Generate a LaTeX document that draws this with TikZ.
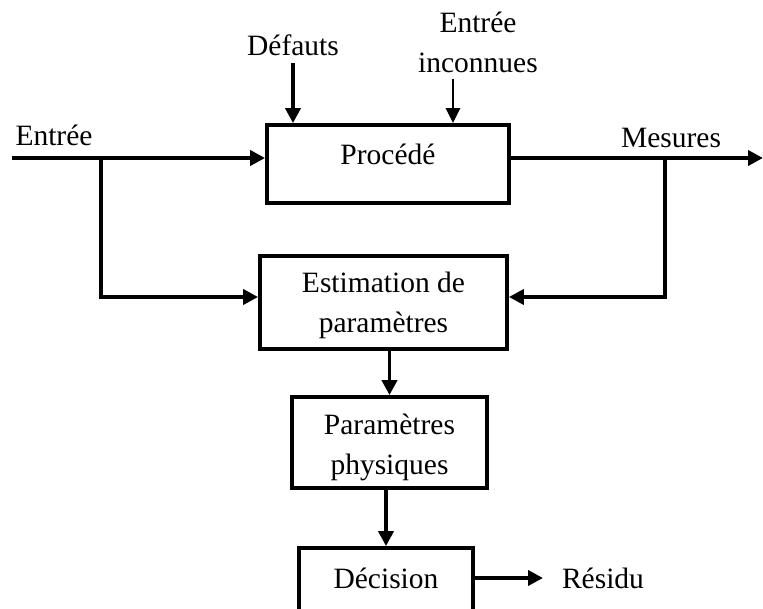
\documentclass[tikz,border=0pt]{standalone}
\usepackage{fontspec}
\setmainfont{Liberation Serif}
\usetikzlibrary{arrows.meta}
\begin{document}
\begin{tikzpicture}[x=1pt,y=-1pt,
  every node/.style={font=\fontsize{29.5}{40}\selectfont},
  blockbox/.style={draw,line width=3.8pt,align=center,inner sep=0pt},
  tag/.style={align=center,inner sep=0pt},
  wire/.style={line width=3.8pt,line join=miter},
  arr/.style={wire,-{Triangle[length=15pt,width=15pt]}},
  thinarr/.style={line width=2.4pt,-{Triangle[length=15pt,width=14pt]}}]
\useasboundingbox (0,0) rectangle (763,609);
\clip (0,0) rectangle (763,609);

% blocks
\node[blockbox,minimum width=242pt,minimum height=78pt,text height=20pt,text depth=18pt] (proc) at (388,164) {Procédé};
\node[blockbox,minimum width=247pt,minimum height=93pt] (est) at (383.5,302.5) {\rule{0pt}{26pt}Estimation de\\paramètres};
\node[blockbox,minimum width=195pt,minimum height=91pt] (par) at (389.5,442.5) {\rule{0pt}{31pt}Paramètres\\physiques};
\node[blockbox,minimum width=174pt,minimum height=76pt,text height=20pt,text depth=16pt] (dec) at (386,586) {Décision};

% labels
\node[tag] (lin) at (54,135) {Entrée};
\node[tag] (ldef) at (293,45) {Défauts};
\node[tag] (lunk) at (478,42) {Entrée\\inconnues};
\node[tag] (lmes) at (671,138) {Mesures};
\node[tag] (lres) at (603,578) {Résidu};

% free ends and branch points
\coordinate (in) at (12,158);
\coordinate (jl) at (101,158);
\coordinate (jr) at (665,158);
\coordinate (out) at (763,158);
\coordinate (fd) at (293,63);
\coordinate (fu) at (453,79);
\coordinate (res) at (543,578);

% connectors
\draw[arr] (in) -- (proc.west |- in);
\draw[arr] (fd) -- (fd |- proc.north);
\draw[thinarr] (fu) -- (fu |- proc.north);
\draw[arr] (proc.east |- out) -- (out);
\draw[arr] (jl) |- (est.west |- 0,297);
\draw[arr] (jr) |- (est.east |- 0,297);
\draw[arr] (par.north |- est.south) -- (par.north);
\draw[arr] (dec.north |- par.south) -- (dec.north);
\draw[arr] (dec.east |- res) -- (res);
\end{tikzpicture}
\end{document}
